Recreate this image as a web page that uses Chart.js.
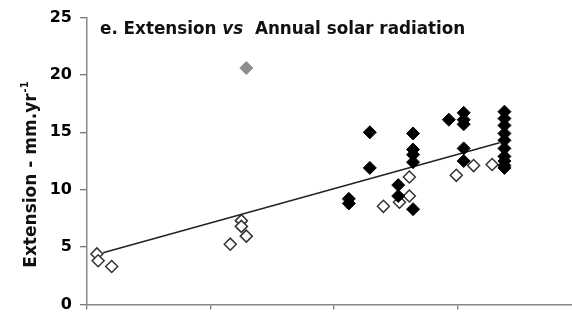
<!DOCTYPE html>
<html>
<head>
<meta charset="utf-8">
<script src="https://cdn.jsdelivr.net/npm/chart.js@4.4.0/dist/chart.umd.min.js"></script>
<style>
  html, body { margin: 0; padding: 0; background: #fff; }
  #wrap { width: 572px; height: 322px; }
</style>
</head>
<body>
<div id="wrap"><canvas id="solarChart"></canvas></div>
<script>
// Extension vs annual solar radiation (x in relative radiation units)
var openX = [0.08, 0.09, 0.20, 1.16, 1.25, 1.25, 1.29, 2.40, 2.53, 2.61, 2.61, 2.99, 3.13, 3.28];
var openY = [4.4, 3.8, 3.3, 5.25, 7.3, 6.8, 5.95, 8.55, 8.9, 9.45, 11.1, 11.25, 12.1, 12.2];

var filledX = [2.12, 2.12, 2.29, 2.29, 2.52, 2.52, 2.64, 2.64, 2.64, 2.64, 2.64,
               2.93, 3.05, 3.05, 3.05, 3.05, 3.05,
               3.38, 3.38, 3.38, 3.38, 3.38, 3.38, 3.38, 3.38, 3.38, 3.38];
var filledY = [9.2, 8.8, 15.0, 11.9, 10.4, 9.45, 14.9, 13.5, 13.05, 12.4, 8.3,
               16.1, 16.7, 16.1, 15.7, 13.6, 12.5,
               16.8, 16.2, 15.6, 14.9, 14.3, 13.6, 12.9, 12.5, 12.1, 11.9];

var outlierX = [1.29];
var outlierY = [20.6];

// regression line
var fitIntercept = 4.11;
var fitSlope = 2.99;
var fitRange = [0.13, 3.34];

var xTicks = [0, 1, 2, 3];
var yTicks = [0, 5, 10, 15, 20, 25];

function pts(xs, ys) {
    return xs.map(function (x, i) { return { x: x, y: ys[i] }; });
}

var FONT = "'DejaVu Sans', Verdana, sans-serif";

var textPlugin = {
    id: 'textPlugin',
    afterDraw: function (chart) {
        var ctx = chart.ctx;
        ctx.save();
        ctx.fillStyle = '#111';
        ctx.textBaseline = 'alphabetic';
        ctx.textAlign = 'left';
        // title with italic "vs"
        var parts = [
            ['bold 16.8px ' + FONT, 'e. Extension '],
            ['italic bold 16.8px ' + FONT, 'vs'],
            ['bold 16.8px ' + FONT, '  Annual solar radiation']
        ];
        var x = 100;
        parts.forEach(function (p) {
            ctx.font = p[0];
            ctx.fillText(p[1], x, 34);
            x += ctx.measureText(p[1]).width;
        });

        // rotated y axis label with superscript
        ctx.translate(36, 175);
        ctx.rotate(-Math.PI / 2);
        ctx.font = 'bold 17px ' + FONT;
        var main = 'Extension - mm.yr';
        var w1 = ctx.measureText(main).width;
        ctx.font = 'bold 10px ' + FONT;
        var w2 = ctx.measureText('-1').width;
        var start = -(w1 + w2) / 2;
        ctx.font = 'bold 17px ' + FONT;
        ctx.fillText(main, start, 0);
        ctx.font = 'bold 10px ' + FONT;
        ctx.fillText('-1', start + w1 + 1, -8);
        ctx.restore();
    }
};

var ctx = document.getElementById('solarChart').getContext('2d');
var myChart = new Chart(ctx, {
    type: 'scatter',
    data: {
        datasets: [{
            label: 'Fit',
            type: 'line',
            data: pts(fitRange, fitRange.map(function (x) { return fitIntercept + fitSlope * x; })),
            borderColor: '#222',
            borderWidth: 1.5,
            pointRadius: 0,
            fill: false,
            order: 1
        }, {
            label: 'Open',
            data: pts(openX, openY),
            pointStyle: 'rectRot',
            pointRadius: 6,
            backgroundColor: '#ffffff',
            borderColor: '#333333',
            borderWidth: 1.5,
            order: 2
        }, {
            label: 'Filled',
            data: pts(filledX, filledY),
            pointStyle: 'rectRot',
            pointRadius: 6.5,
            backgroundColor: '#000000',
            borderColor: '#000000',
            borderWidth: 1,
            order: 0
        }, {
            label: 'Outlier',
            data: pts(outlierX, outlierY),
            pointStyle: 'rectRot',
            pointRadius: 6.5,
            backgroundColor: '#8e8e8e',
            borderColor: '#8e8e8e',
            borderWidth: 1,
            order: 0
        }]
    },
    options: {
        maintainAspectRatio: false,
        responsive: true,
        animation: false,
        layout: {
            autoPadding: false,
            padding: { top: 13, right: 0, bottom: 0, left: 0 }
        },
        plugins: {
            legend: { display: false },
            tooltip: { enabled: false }
        },
        scales: {
            x: {
                type: 'linear',
                min: 0,
                max: 3.927,
                afterBuildTicks: function (scale) {
                    scale.ticks = xTicks.map(function (v) { return { value: v }; });
                },
                ticks: { display: false },
                grid: { drawOnChartArea: false, drawTicks: true, tickLength: 5, color: '#777', lineWidth: 1.3 },
                border: { color: '#888', width: 1.5 },
                afterFit: function (scale) { scale.height = 11; }
            },
            y: {
                min: 0,
                max: 25,
                afterBuildTicks: function (scale) {
                    scale.ticks = yTicks.map(function (v) { return { value: v }; });
                },
                ticks: {
                    color: '#000',
                    padding: 8,
                    font: { family: FONT, size: 16, weight: 'bold' }
                },
                grid: { drawOnChartArea: false, drawTicks: true, tickLength: 7, color: '#777', lineWidth: 1.3 },
                border: { color: '#888', width: 1.5 },
                afterFit: function (scale) { scale.width = 87; }
            }
        }
    },
    plugins: [textPlugin]
});
</script>
</body>
</html>
